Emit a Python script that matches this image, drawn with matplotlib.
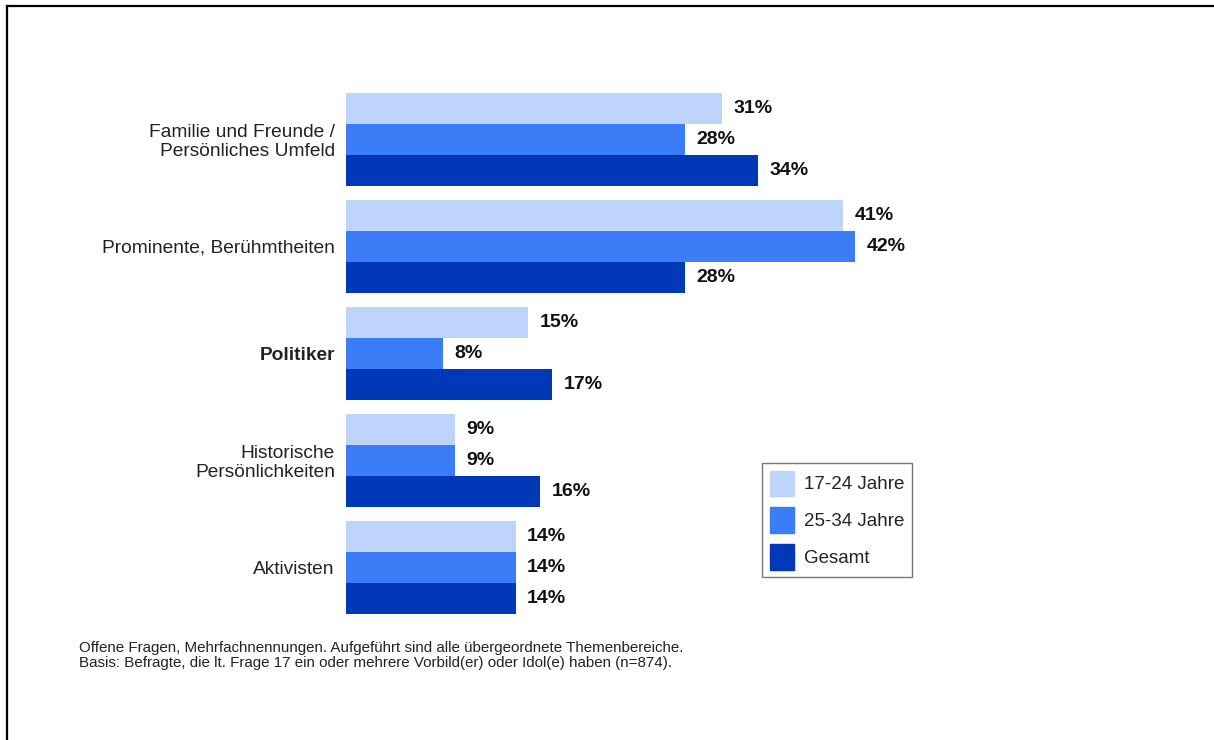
import matplotlib.pyplot as plt
import matplotlib.patches as mpatches
from matplotlib.lines import Line2D
import numpy as np

plt.rcParams['font.family'] = ['Liberation Sans', 'DejaVu Sans']

categories = ["Familie und Freunde /\nPersönliches Umfeld",
              "Prominente, Berühmtheiten",
              "Politiker",
              "Historische\nPersönlichkeiten",
              "Aktivisten"]
series_names = ["17-24 Jahre", "25-34 Jahre", "Gesamt"]
jung = [31, 41, 15, 9, 14]
mittel = [28, 42, 8, 9, 14]
gesamt = [34, 28, 17, 16, 14]
colors = ["#BED4FA", "#3B7DF6", "#0038B8"]

footnote = ("Offene Fragen, Mehrfachnennungen. Aufgeführt sind alle übergeordnete Themenbereiche.\n"
            "Basis: Befragte, die lt. Frage 17 ein oder mehrere Vorbild(er) oder Idol(e) haben (n=874).")

W, H = 1214, 740
fig = plt.figure(figsize=(W / 100, H / 100), dpi=100)

# axes placed in pixel terms: bars start at x=346, top bar at y=93, last bar ends at y=614
x0, x1 = 346, 346 + 60 * 12.12
y_top, y_bot = 93, 614
ax = fig.add_axes([x0 / W, 1 - y_bot / H, (x1 - x0) / W, (y_bot - y_top) / H])

pitch = 107 / 31
centers = np.arange(len(categories)) * pitch
for k, vals in enumerate([jung, mittel, gesamt]):
    ypos = centers + (k - 1)
    ax.barh(ypos, vals, height=1.0, color=colors[k], label=series_names[k])
    for y, v in zip(ypos, vals):
        ax.text(v + 0.95, y, f"{v}%", va='center', ha='left',
                fontsize=14, fontweight='bold', color='#111111')

ax.set_xlim(0, 60)
ax.set_ylim(centers[-1] + 1.5, -1.5)
ax.set_yticks(centers)
ax.set_yticklabels(categories, fontsize=13.8, color='#222222', linespacing=1.1)
for lbl in ax.get_yticklabels():
    lbl.set_horizontalalignment('right')
    if lbl.get_text() == "Politiker":
        lbl.set_fontweight('bold')
ax.tick_params(axis='y', length=0, pad=8)
ax.set_xticks([])
for s in ax.spines.values():
    s.set_visible(False)

handles = [mpatches.Patch(color=c) for c in colors]
leg = fig.legend(handles, series_names, loc='upper left',
                 bbox_to_anchor=(762 / W, 1 - 463 / H), fontsize=13.5,
                 frameon=True, fancybox=False, edgecolor='#555555',
                 handlelength=1.3, handleheight=1.7, handletextpad=0.55,
                 labelspacing=0.62, borderpad=0.4, borderaxespad=0)
leg.get_frame().set_linewidth(1.0)
for t in leg.get_texts():
    t.set_color('#222222')

fig.text(79 / W, 1 - 641 / H, footnote, fontsize=10.9, va='top', ha='left',
         color='#222222', linespacing=1.1)

# page frame: top and left edge
fig.add_artist(Line2D([7 / W, 1], [1 - 6 / H, 1 - 6 / H], color='black', lw=1.6,
                      transform=fig.transFigure))
fig.add_artist(Line2D([7 / W, 7 / W], [0, 1 - 6 / H], color='black', lw=1.6,
                      transform=fig.transFigure))

fig.savefig("out.png", dpi=100, facecolor='white')
